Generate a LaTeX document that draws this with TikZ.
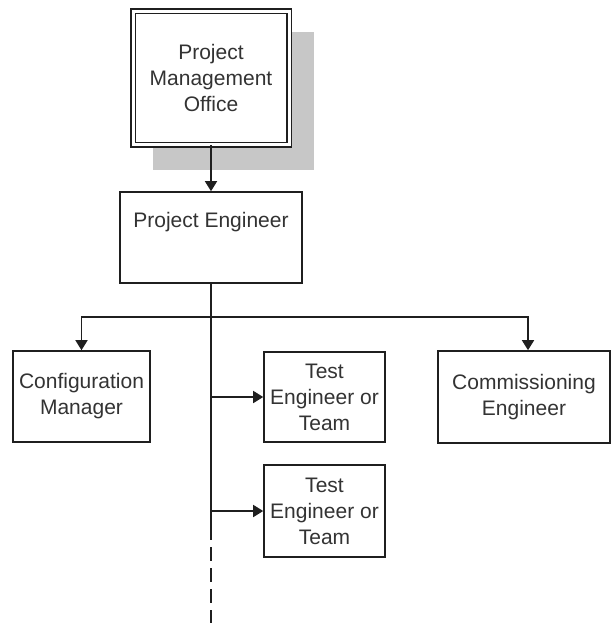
\documentclass[tikz,border=0pt]{standalone}
\usepackage{fontspec}
\setmainfont{Liberation Sans}
\usetikzlibrary{arrows.meta}
\begin{document}
\begin{tikzpicture}[x=1pt,y=-1pt,
  box/.style={draw=black!88, line width=1.6pt, fill=white, align=center,
    text=black!80, font=\fontsize{21}{26}\selectfont, inner sep=0pt},
  conn/.style={draw=black!88, line width=1.6pt},
  arr/.style={conn, -{Triangle[width=12pt,length=10pt]}}]
\useasboundingbox (0,0) rectangle (611,623);
% shadow of PMO
\fill[black!22] (153,32) rectangle (314,170);
\node[box, double, double distance=3pt, line width=1.5pt,
  minimum width=156pt, minimum height=133pt] (pmo) at (211,78)
  {Project\\Management\\Office};
\node[box, minimum width=182pt, minimum height=91pt,
  label={[anchor=center, yshift=-31pt, text=black!80, font=\fontsize{21}{26}\selectfont]north:Project Engineer}]
  (pe) at (211,237.5) {};
\node[box, minimum width=137pt, minimum height=91pt] (cfg) at (81.5,396.5)
  {Configuration\\Manager};
\node[box, minimum width=121pt, minimum height=90pt] (t1) at (324.5,397)
  {Test\\Engineer or\\Team};
\node[box, minimum width=121pt, minimum height=92pt] (t2) at (324.5,511)
  {Test\\Engineer or\\Team};
\node[box, minimum width=172pt, minimum height=92pt] (com) at (524,397)
  {Commissioning\\Engineer};
% connectors
\coordinate (j) at (211,317);
\coordinate (jr) at (528,317);
\coordinate (ds) at (211,526);
\coordinate (vend) at (211,623);
\draw[arr] (pmo.south) -- (pe.north);
\draw[conn] (pe.south) -- (j);
\draw[arr] (j) -| (cfg.north);
\draw[arr] (j) -- (jr) -- (jr |- com.north);
\draw[conn] (j) -- (ds);
\draw[arr] (j |- t1.west) -- (t1.west);
\draw[arr] (j |- t2.west) -- (t2.west);
\draw[conn, dash pattern=on 14pt off 7pt] (ds) -- (vend);
\end{tikzpicture}
\end{document}
